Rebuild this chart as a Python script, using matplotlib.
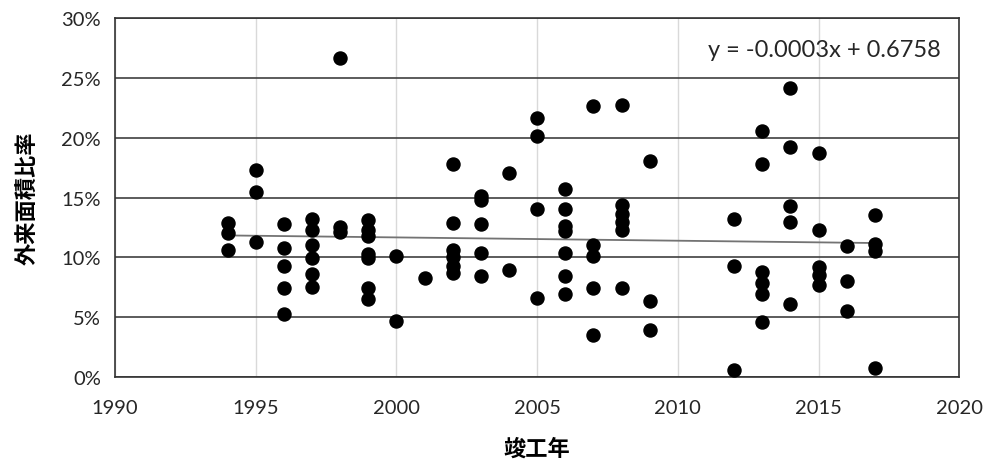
import numpy as np
import matplotlib
matplotlib.use("Agg")
import matplotlib.pyplot as plt
from matplotlib.ticker import FuncFormatter, MultipleLocator

# data: completion year and foreign-area ratio (%)
years = [1994]*3 + [1995]*3 + [1996]*5 + [1997]*6 + [1998]*3 + [1999]*7 + [2000]*2 + [2001] \
    + [2002]*6 + [2003]*5 + [2004]*2 + [2005]*4 + [2006]*7 + [2007]*5 + [2008]*6 + [2009]*3 \
    + [2012]*3 + [2013]*6 + [2014]*5 + [2015]*5 + [2016]*3 + [2017]*4
ratios = [12.9, 12.05, 10.6,
          17.3, 15.5, 11.3,
          12.75, 10.8, 9.3, 7.4, 5.25,
          13.2, 12.25, 11.0, 9.95, 8.6, 7.5,
          26.7, 12.5, 12.1,
          13.1, 12.25, 11.8, 10.3, 9.9, 7.45, 6.5,
          10.15, 4.7,
          8.3,
          17.8, 12.9, 10.6, 10.0, 9.3, 8.7,
          15.1, 14.8, 12.8, 10.4, 8.4,
          17.1, 8.9,
          21.7, 20.2, 14.05, 6.6,
          15.75, 14.05, 12.6, 12.2, 10.35, 8.4, 6.9,
          22.7, 11.05, 10.1, 7.45, 3.5,
          22.75, 14.35, 13.65, 12.95, 12.3, 7.45,
          18.1, 6.3, 3.9,
          13.2, 9.3, 0.6,
          20.6, 17.8, 8.75, 7.85, 6.9, 4.6,
          24.15, 19.25, 14.3, 12.95, 6.1,
          18.7, 12.25, 9.2, 8.55, 7.7,
          10.95, 8.05, 5.5,
          13.55, 11.1, 10.55, 0.75]
x_ticks = [1990, 1995, 2000, 2005, 2010, 2015, 2020]
equation_text = "y = -0.0003x + 0.6758"

x = np.array(years, dtype=float)
y = np.array(ratios) / 100.0

fig = plt.figure(figsize=(9.91, 4.64), dpi=100)
ax = fig.add_axes([0.116, 0.186, 0.852, 0.772])

tickfont = "Lato"
ax.set_xlim(1990, 2020)
ax.set_ylim(0, 0.30)
ax.set_xticks(x_ticks)
ax.yaxis.set_major_locator(MultipleLocator(0.05))
ax.yaxis.set_major_formatter(FuncFormatter(lambda v, p: f"{v*100:.0f}%"))

ax.grid(axis="y", color="#404040", linewidth=1.2, zorder=1)
ax.grid(axis="x", color="#d9d9d9", linewidth=1.0, zorder=1)
ax.set_axisbelow(True)

ax.plot(x, y, "o", color="black", markersize=9.4, zorder=3, linestyle="none")

# linear trendline
coef = np.polyfit(x, y, 1)
xt = np.array([x.min(), x.max()])
ax.plot(xt, np.polyval(coef, xt), color="#737373", linewidth=1.3, zorder=2)

ax.text(0.978, 0.914, equation_text, transform=ax.transAxes, ha="right", va="center",
        fontsize=17, family=tickfont, color="#262626")

for s in ax.spines.values():
    s.set_color("#333333")
    s.set_linewidth(1.2)

ax.tick_params(length=0, pad=10, labelsize=14.5)
for lab in ax.get_xticklabels() + ax.get_yticklabels():
    lab.set_family(tickfont)
    lab.set_color("#262626")
ax.tick_params(axis="x", pad=16)

ax.set_xlabel("竣工年", fontsize=16, fontweight="bold", family=["Noto Sans CJK JP", "DejaVu Sans"], labelpad=15)
ax.set_ylabel("外来面積比率", fontsize=16, fontweight="bold", family=["Noto Sans CJK JP", "DejaVu Sans"], labelpad=16)

fig.savefig("out.png", dpi=100)
